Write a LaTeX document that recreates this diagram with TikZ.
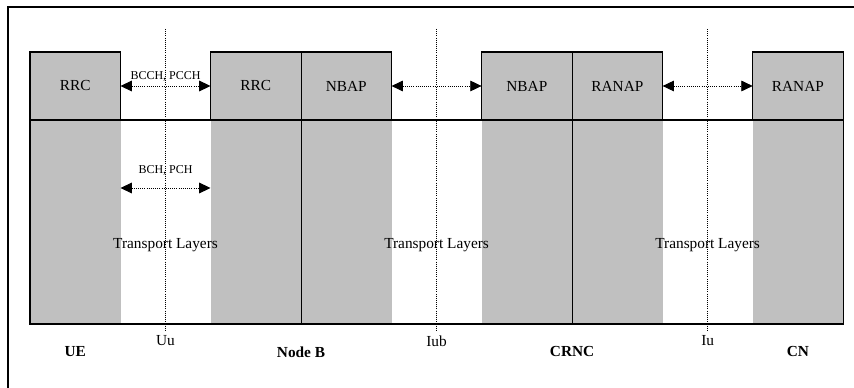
\documentclass[tikz,border=0pt]{standalone}
\usepackage{fontspec}
\setmainfont{Liberation Serif}
\usetikzlibrary{positioning, calc, arrows.meta}
\definecolor{layergray}{HTML}{C0C0C0}

\begin{document}
\begin{tikzpicture}[x=0.75pt, y=-0.75pt, node distance=67.5pt,
        font=\fontsize{11.5pt}{13pt}\selectfont]
        \tikzstyle{proto}=[rectangle, draw, fill=layergray, minimum width=67.9pt, minimum height=51pt, inner sep=0pt, outer sep=0pt, line width=0.8pt];
        \tikzstyle{trans}=[rectangle, fill=layergray, minimum width=67.9pt, minimum height=153pt, inner sep=0pt, outer sep=0pt];
        \tikzstyle{iface}=[densely dotted, line width=0.6pt];
        \tikzstyle{peer}=[{Triangle[length=8.5pt,width=8pt]}-{Triangle[length=8.5pt,width=8pt]}, densely dotted, line width=0.6pt];
        \tikzstyle{chan}=[font=\fontsize{9pt}{10pt}\selectfont, inner sep=1pt];
        \tikzstyle{entity}=[font=\fontsize{11.5pt}{13pt}\selectfont\bfseries];

        \useasboundingbox (0,0) rectangle (854,388);
        \draw[line width=0.8pt] (8,388) -- (8,7) -- (854,7);

        % control plane boxes
        \node[proto] (ueRRC) at (75.25,86) {RRC};
        \node[proto, right=of ueRRC] (nbRRC) {RRC};
        \node[proto, right=0pt of nbRRC] (nbNBAP) {NBAP};
        \node[proto, right=of nbNBAP] (rncNBAP) {NBAP};
        \node[proto, right=0pt of rncNBAP] (rncRANAP) {RANAP};
        \node[proto, right=of rncRANAP] (cnRANAP) {RANAP};

        % transport part below each box
        \foreach \n in {ueRRC, nbRRC, nbNBAP, rncNBAP, rncRANAP, cnRANAP}
            \node[trans, below=0pt of \n] (\n-low) {};

        \draw[line width=0.8pt] (ueRRC.south west) -- (cnRANAP.south east);
        \draw[line width=0.8pt] (ueRRC.north west) -- (ueRRC-low.south west)
            -- (cnRANAP-low.south east) -- (cnRANAP.north east);
        \draw[line width=0.8pt] (nbRRC.north east) -- (nbRRC-low.south east);
        \draw[line width=0.8pt] (rncNBAP.north east) -- (rncNBAP-low.south east);

        % interfaces
        \foreach \a/\b/\n/\t in {ueRRC/nbRRC/uu/Uu, nbNBAP/rncNBAP/iub/Iub, rncRANAP/cnRANAP/iu/Iu} {
            \coordinate (\n) at ($(\a.east)!0.5!(\b.west)$);
            \coordinate (\n-top) at ([yshift=42.75pt]\n);
            \coordinate (\n-base) at (\n |- ueRRC-low.south);
            \node[below=5pt of \n-base] (\n-lbl) {\t};
            \draw[iface] (\n-top) -- (\n-lbl.north);
            \node (\n-tl) at ([yshift=-119.25pt]\n) {Transport Layers};
        }

        \path[peer]
        (ueRRC.east) edge node[chan, above=2pt] {BCCH, PCCH} (nbRRC.west)
        ([yshift=-51pt]ueRRC-low.north east) edge node[chan, above=8pt] {BCH, PCH} ([yshift=-51pt]nbRRC-low.north west)
        (nbNBAP.east) edge (rncNBAP.west)
        (rncRANAP.east) edge (cnRANAP.west);

        % network elements
        \node[entity, below=13.5pt of ueRRC-low.south] (ue) {UE};
        \node[entity, below=13.5pt of nbRRC-low.south east] (nodeb) {Node B};
        \node[entity, below=13.5pt of rncNBAP-low.south east] (crnc) {CRNC};
        \node[entity, below=13.5pt of cnRANAP-low.south] (cn) {CN};
\end{tikzpicture}
\end{document}
